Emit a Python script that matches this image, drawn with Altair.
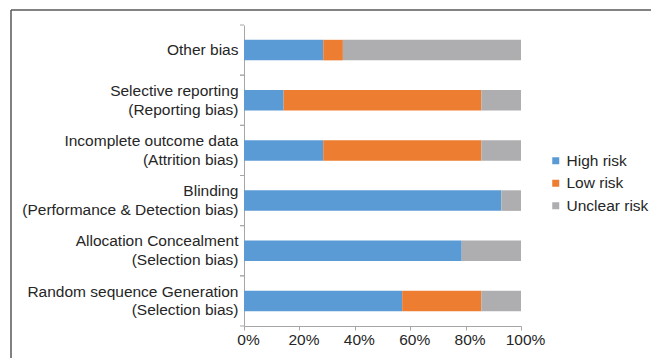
import altair as alt
import pandas as pd

categories = [
    "Other bias",
    "Selective reporting|(Reporting bias)",
    "Incomplete outcome data|(Attrition bias)",
    "Blinding|(Performance & Detection bias)",
    "Allocation Concealment|(Selection bias)",
    "Random sequence Generation|(Selection bias)",
]
high_risk = [28.6, 14.3, 28.6, 92.9, 78.6, 57.1]
low_risk = [7.1, 71.4, 57.1, 0.0, 0.0, 28.6]
unclear_risk = [64.3, 14.3, 14.3, 7.1, 21.4, 14.3]
risk_levels = ["High risk", "Low risk", "Unclear risk"]
risk_colors = ["#5B9BD5", "#ED7D31", "#AEAEB1"]
x_ticks = [0, 20, 40, 60, 80, 100]

rows = []
for i, c in enumerate(categories):
    for j, (lvl, vals) in enumerate(zip(risk_levels, [high_risk, low_risk, unclear_risk])):
        rows.append({"category": c, "risk": lvl, "value": vals[i], "idx": j})
df = pd.DataFrame(rows)
cat_df = pd.DataFrame({"category": categories})

FONT = "Liberation Sans"
FS = 15.5
W, H = 277, 301
PAD_L, PAD_T = 244, 25

y_axis = alt.Axis(
    title=None, ticks=False, domain=True, domainColor="#A6A6A6", domainWidth=1,
    labelFont=FONT, labelFontSize=FS, labelColor="#262626", labelPadding=6,
    labelExpr="split(datum.label, '|')", labelLineHeight=18.7, labelLimit=300,
    labelBaseline="middle",
    labelOffset={"condition": {"test": "indexof(datum.value, '|') >= 0", "value": -9.35}, "value": 0},
)
y_scale = alt.Scale(paddingInner=0, paddingOuter=0)

bars = alt.Chart(df).mark_bar(height=alt.RelativeBandSize(0.41)).encode(
    y=alt.Y("category:N", sort=categories, scale=y_scale, axis=y_axis),
    x=alt.X(
        "value:Q", stack="zero", scale=alt.Scale(domain=[0, 100], nice=False),
        axis=alt.Axis(
            title=None, values=x_ticks, labelExpr="datum.value + '%'", grid=False,
            domainColor="#A6A6A6", tickColor="#A6A6A6", tickSize=4, labelPadding=2,
            labelFlush=False, labelOffset=4, labelOverlap=False,
            labelFont=FONT, labelFontSize=FS, labelColor="#262626",
        ),
    ),
    color=alt.Color(
        "risk:N", scale=alt.Scale(domain=risk_levels, range=risk_colors),
        legend=alt.Legend(
            title=None, orient="none", legendX=304, legendY=128, padding=0,
            symbolType="square", symbolSize=49, symbolStrokeWidth=0, labelOffset=3,
            labelFont=FONT, labelFontSize=FS, labelColor="#262626", rowPadding=5.5,
        ),
    ),
    order=alt.Order("idx:Q"),
)

tick_top = alt.Chart(cat_df).mark_rule(color="#A6A6A6").encode(
    y=alt.Y("category:N", sort=categories, scale=y_scale, axis=y_axis, bandPosition=0),
    x=alt.value(-4), x2=alt.value(0),
)
tick_bot = alt.Chart(cat_df).mark_rule(color="#A6A6A6").encode(
    y=alt.Y("category:N", sort=categories, scale=y_scale, axis=y_axis, bandPosition=1),
    x=alt.value(-4), x2=alt.value(0),
)

frame_top = alt.Chart(alt.Data(values=[{}])).mark_rule(color="#595959", strokeWidth=1.5).encode(
    x=alt.value(11 - PAD_L), x2=alt.value(651 - PAD_L), y=alt.value(10 - PAD_T)
)
frame_left = alt.Chart(alt.Data(values=[{}])).mark_rule(color="#595959", strokeWidth=1.5).encode(
    x=alt.value(11 - PAD_L), y=alt.value(10 - PAD_T), y2=alt.value(358 - PAD_T)
)

chart = alt.layer(bars, tick_top, tick_bot, frame_top, frame_left).properties(
    width=W, height=H,
    autosize=alt.AutoSizeParams(type="none"),
    padding={"left": PAD_L, "top": PAD_T, "right": 651 - PAD_L - W, "bottom": 358 - PAD_T - H},
    background="white",
).configure_view(strokeWidth=0)

chart.save("out.html", embed_options={"renderer": "svg", "actions": False})
